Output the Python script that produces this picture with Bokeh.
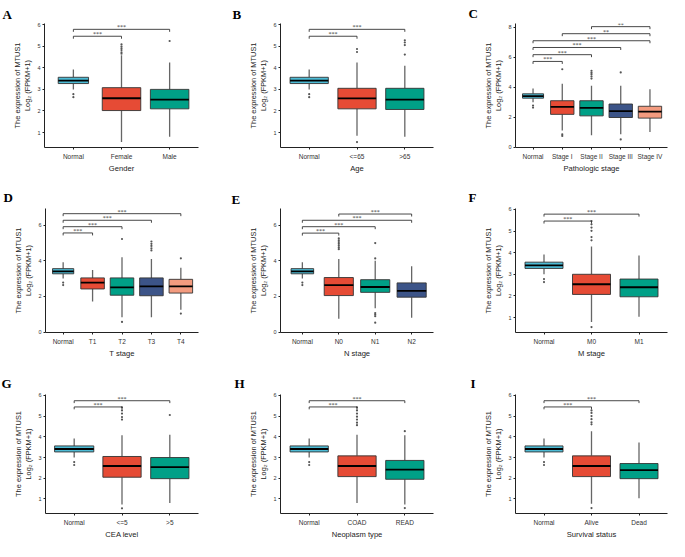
from bokeh.plotting import figure
from bokeh.layouts import column, row
from bokeh.models import Range1d, FixedTicker, ColumnDataSource
from bokeh.embed import file_html
from bokeh.resources import INLINE

# ---------------- data ----------------
# box stats per group: [lower whisker, Q1, median, Q3, upper whisker]
normal_stats = [3.00, 3.27, 3.41, 3.56, 3.92]
normal_out = [2.78, 2.64]

A_cats = ["Normal", "Female", "Male"]
A_stats = [normal_stats, [0.56, 2.02, 2.59, 3.08, 4.58], [0.81, 2.10, 2.53, 3.00, 4.25]]
A_out = [normal_out, [5.08, 4.98, 4.90, 4.82, 4.72, 4.65], [5.24]]
A_sig = [[1, 2, 5.46, "***"], [1, 3, 5.78, "***"]]

B_cats = ["Normal", "<=65", ">65"]
B_stats = [normal_stats, [0.85, 2.10, 2.58, 3.05, 4.25], [0.81, 2.07, 2.53, 3.05, 4.10]]
B_out = [normal_out, [4.73, 4.87, 0.56], [4.61, 5.05, 5.17, 5.27]]
B_sig = [[1, 2, 5.46, "***"], [1, 3, 5.78, "***"]]

C_cats = ["Normal", "Stage I", "Stage II", "Stage III", "Stage IV"]
C_stats = [normal_stats, [1.12, 2.19, 2.69, 3.10, 4.24], [0.80, 2.09, 2.62, 3.10, 4.09],
           [0.86, 1.98, 2.41, 2.88, 4.09], [1.01, 1.94, 2.37, 2.73, 3.87]]
C_out = [normal_out, [5.20, 0.86, 0.75], [5.10, 4.98, 4.87, 4.72, 4.58], [4.99, 0.52], []]
C_sig = [[1, 2, 5.72, "***"], [1, 3, 6.17, "***"], [1, 4, 6.65, "***"],
         [1, 5, 7.10, "***"], [2, 5, 7.57, "**"], [3, 5, 8.04, "**"]]

D_cats = ["Normal", "T1", "T2", "T3", "T4"]
D_stats = [normal_stats, [1.72, 2.42, 2.78, 3.04, 3.49], [0.83, 2.07, 2.51, 3.04, 4.20],
           [0.83, 2.04, 2.57, 3.04, 4.10], [1.25, 2.19, 2.57, 2.96, 3.61]]
D_out = [normal_out, [], [5.22, 0.57], [5.08, 4.95, 4.83, 4.70, 4.58], [4.14, 1.04]]
D_sig = [[1, 2, 5.56, "***"], [1, 3, 5.91, "***"], [1, 4, 6.27, "***"], [1, 5, 6.64, "***"]]

E_cats = ["Normal", "N0", "N1", "N2"]
E_stats = [normal_stats, [0.75, 2.05, 2.64, 3.06, 4.10], [1.34, 2.23, 2.53, 2.94, 4.00],
           [0.80, 1.96, 2.31, 2.76, 3.70]]
E_out = [normal_out, [5.25, 5.15, 5.05, 4.95, 4.85, 4.75, 4.65],
         [4.99, 4.13, 1.07, 0.98, 0.89, 0.53], []]
E_sig = [[1, 2, 5.55, "***"], [1, 3, 5.91, "***"], [1, 4, 6.27, "***"], [2, 4, 6.62, "***"]]

F_cats = ["Normal", "M0", "M1"]
F_stats = [normal_stats, [0.79, 2.07, 2.54, 3.00, 4.28], [1.04, 1.96, 2.40, 2.78, 3.87]]
F_out = [normal_out, [5.46, 5.31, 5.16, 5.01, 4.72, 4.57, 0.56], []]
F_sig = [[1, 2, 5.46, "***"], [1, 3, 5.78, "***"]]

G_cats = ["Normal", "<=5", ">5"]
G_stats = [normal_stats, [0.74, 2.05, 2.59, 3.05, 4.07], [0.81, 1.98, 2.54, 3.00, 4.10]]
G_out = [normal_out, [5.42, 5.27, 5.12, 4.95, 4.83, 0.55], [5.05]]
G_sig = [[1, 2, 5.44, "***"], [1, 3, 5.74, "***"]]

H_cats = ["Normal", "COAD", "READ"]
H_stats = [normal_stats, [0.81, 2.08, 2.59, 3.08, 4.10], [0.74, 1.95, 2.42, 2.86, 4.07]]
H_out = [normal_out, [5.42, 5.27, 5.12, 4.97, 4.83, 4.68, 4.56], [4.27, 0.56]]
H_sig = [[1, 2, 5.44, "***"], [1, 3, 5.74, "***"]]

I_cats = ["Normal", "Alive", "Dead"]
I_stats = [normal_stats, [0.77, 2.08, 2.59, 3.08, 4.27], [1.03, 1.98, 2.39, 2.71, 3.73]]
I_out = [normal_out, [5.27, 5.15, 5.00, 4.85, 4.70, 4.60, 0.56], []]
I_sig = [[1, 2, 5.44, "***"], [1, 3, 5.74, "***"]]

x_titles = ["Gender", "Age", "Pathologic stage", "T stage", "N stage", "M stage",
            "CEA level", "Neoplasm type", "Survival status"]
y_title = "The expression of MTUS1\nLog\u2082 (FPKM+1)"
ticks_6 = [1, 2, 3, 4, 5, 6]
ticks_8 = [0, 2, 4, 6, 8]
ticks_even = [0, 2, 4, 6]

# ---------------- style / layout ----------------
PALETTE = ["#4DBBD5", "#E64B35", "#00A087", "#3C5488", "#F39B7F"]
FONT = "Liberation Sans"
COL_W = [224, 220, 224]
ROW_H = [180, 180, 181]
# frame [left, top, right, bottom] in figure pixels
FRAMES = {
    "A": (44, 19, 198, 147), "B": (56, 19, 209, 147), "C": (71, 22, 223, 147),
    "D": (45, 28, 198, 153), "E": (56, 28, 209, 153), "F": (71, 28, 223, 153),
    "G": (45, 34, 198, 160), "H": (56, 34, 209, 160), "I": (71, 34, 223, 160),
}
YRANGES = {
    "A": (0.31, 6.05), "B": (0.31, 6.05), "C": (-0.02, 8.25),
    "D": (-0.02, 6.93), "E": (-0.02, 6.93), "F": (0.31, 6.04),
    "G": (0.30, 6.04), "H": (0.30, 6.04), "I": (0.30, 6.04),
}
LETTER_POS = {  # top-left of the panel letter, figure pixels
    "A": (2, 2), "B": (8, 2), "C": (24, 2), "D": (3, 6), "E": (7, 11),
    "F": (24, 6), "G": (1, 13), "H": (10, 13), "I": (26, 12),
}
NORMAL_W = {"A": 0.63, "B": 0.8, "C": 0.72, "D": 0.72, "E": 0.62,
            "F": 0.8, "G": 0.82, "H": 0.8, "I": 0.8}


def make_panel(letter, cats, stats, outs, sigs, xlab, yticks, W, H):
    l, t, r, b = FRAMES[letter]
    n = len(cats)
    y0, y1 = YRANGES[letter]
    p = figure(width=W, height=H, x_range=Range1d(0.4, n + 0.6), y_range=Range1d(y0, y1),
               output_backend="svg", toolbar_location=None,
               min_border_left=l, min_border_right=W - r, min_border_top=t,
               min_border_bottom=H - b)
    p.outline_line_color = None
    p.xgrid.visible = False
    p.ygrid.visible = False
    p.background_fill_color = None

    xs = list(range(1, n + 1))
    w = [NORMAL_W[letter]] + [0.8] * (n - 1)
    src = ColumnDataSource(dict(
        x=xs,
        lo=[s[0] for s in stats], q1=[s[1] for s in stats], med=[s[2] for s in stats],
        q3=[s[3] for s in stats], hi=[s[4] for s in stats],
        w=w, xl=[x - ww / 2 for x, ww in zip(xs, w)], xr=[x + ww / 2 for x, ww in zip(xs, w)],
        color=PALETTE[:n]))
    p.segment(x0="x", y0="q3", x1="x", y1="hi", source=src, line_color="#666666", line_width=1.3)
    p.segment(x0="x", y0="lo", x1="x", y1="q1", source=src, line_color="#666666", line_width=1.3)
    p.vbar(x="x", width="w", bottom="q1", top="q3", source=src, fill_color="color",
           line_color="#333333", line_width=0.9)
    p.segment(x0="xl", y0="med", x1="xr", y1="med", source=src, line_color="black", line_width=1.8)

    ox, oy = [], []
    for i, vals in enumerate(outs):
        for v in vals:
            ox.append(i + 1)
            oy.append(v)
    p.scatter(ox, oy, size=2.2, color="#555555", line_width=0)

    tip = 0.02 * (y1 - y0)
    bx, by, tx, ty, tt = [], [], [], [], []
    for i, j, y, s in sigs:
        bx.append([i, i, j, j])
        by.append([y - tip, y, y, y - tip])
        tx.append((i + j) / 2)
        ty.append(y)
        tt.append(s)
    p.multi_line(bx, by, line_color="#333333", line_width=0.9)
    p.text(tx, ty, text=tt, text_align="center", text_baseline="bottom",
           text_font_size="6px", text_color="#333333", y_offset=1, text_font=FONT)

    p.xaxis.ticker = FixedTicker(ticks=xs)
    p.xaxis.major_label_overrides = {x: c for x, c in zip(xs, cats)}
    p.yaxis.ticker = FixedTicker(ticks=yticks)
    p.xaxis.axis_label = xlab
    p.yaxis.axis_label = y_title
    for ax in (p.xaxis[0], p.yaxis[0]):
        ax.axis_line_color = "#222222"
        ax.axis_line_width = 1
        ax.major_tick_line_color = "#222222"
        ax.major_tick_out = 2
        ax.major_tick_in = 0
        ax.minor_tick_out = 0
        ax.minor_tick_in = 0
        ax.major_label_text_font = FONT
        ax.major_label_text_color = "#333333"
        ax.axis_label_text_font = FONT
        ax.axis_label_text_font_style = "normal"
        ax.axis_label_text_color = "#222222"
        ax.major_label_standoff = 2
        ax.axis_label_standoff = 2
    p.xaxis.major_label_text_font_size = "6.5px"
    p.yaxis.major_label_text_font_size = "5.5px"
    p.xaxis.axis_label_text_font_size = "7.6px"
    p.yaxis.axis_label_text_font_size = "7.4px"
    p.xaxis.major_label_standoff = 3
    p.xaxis.axis_label_standoff = 1
    p.xaxis.major_label_text_line_height = 1.0
    p.xaxis.axis_label_text_line_height = 1.0

    # panel letter as the plot title, shifted left of the frame
    lx, ly = LETTER_POS[letter]
    p.title.text = letter
    p.title.align = "left"
    p.title.offset = lx - l
    p.title.standoff = max(0, t - ly - 14)
    p.title.text_font = "Liberation Serif"
    p.title.text_font_style = "bold"
    p.title.text_font_size = "13px"
    p.title.text_color = "black"
    return p


pA = make_panel("A", A_cats, A_stats, A_out, A_sig, x_titles[0], ticks_6, COL_W[0], ROW_H[0])
pB = make_panel("B", B_cats, B_stats, B_out, B_sig, x_titles[1], ticks_6, COL_W[1], ROW_H[0])
pC = make_panel("C", C_cats, C_stats, C_out, C_sig, x_titles[2], ticks_8, COL_W[2], ROW_H[0])
pD = make_panel("D", D_cats, D_stats, D_out, D_sig, x_titles[3], ticks_even, COL_W[0], ROW_H[1])
pE = make_panel("E", E_cats, E_stats, E_out, E_sig, x_titles[4], ticks_even, COL_W[1], ROW_H[1])
pF = make_panel("F", F_cats, F_stats, F_out, F_sig, x_titles[5], ticks_6, COL_W[2], ROW_H[1])
pG = make_panel("G", G_cats, G_stats, G_out, G_sig, x_titles[6], ticks_6, COL_W[0], ROW_H[2])
pH = make_panel("H", H_cats, H_stats, H_out, H_sig, x_titles[7], ticks_6, COL_W[1], ROW_H[2])
pI = make_panel("I", I_cats, I_stats, I_out, I_sig, x_titles[8], ticks_6, COL_W[2], ROW_H[2])

layout = column(row(pA, pB, pC), row(pD, pE, pF), row(pG, pH, pI))
open("out.html", "w").write(file_html(layout, INLINE))
